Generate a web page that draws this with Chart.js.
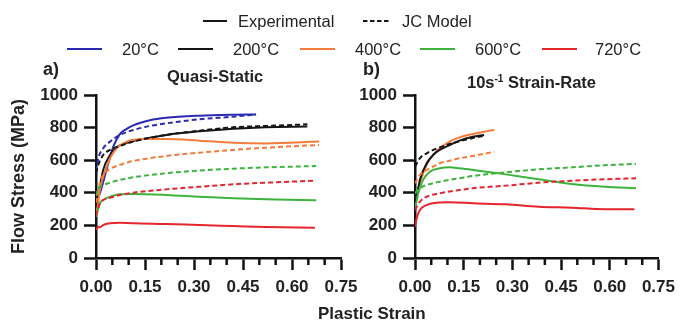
<!DOCTYPE html>
<html>
<head>
<meta charset="utf-8">
<script src="https://cdn.jsdelivr.net/npm/chart.js@4.4.0/dist/chart.umd.min.js"></script>
<style>
  body { margin: 0; background: #fff; }
  #wrap { position: relative; width: 682px; height: 325px; font-family: "Liberation Sans", Arial, sans-serif; color: #222; }
  #wrap canvas { position: absolute; left: 0; top: 0; }
  .t { position: absolute; white-space: nowrap; line-height: 20px; font-size: 16.5px; }
  .b { font-weight: bold; }
  .sw { position: absolute; }
  sup { font-size: 10px; line-height: 0; }
</style>
</head>
<body>
<div id="wrap">
  <canvas id="chartA" width="682" height="325"></canvas>
  <canvas id="chartB" width="682" height="325"></canvas>
  <div class="t b" style="left:43px;top:59px;font-size:18px">a)</div>
  <div class="t b" style="left:363px;top:59px;font-size:18px">b)</div>
  <div class="t b" style="left:167px;top:66px">Quasi-Static</div>
  <div class="t b" style="left:467px;top:72px">10s<sup>-1</sup> Strain-Rate</div>
  <div class="t b" style="left:318px;top:304px;font-size:17px">Plastic Strain</div>
</div>
<script>
// legend entries
const temps = ['20°C', '200°C', '400°C', '600°C', '720°C'];
const colors = ['#2a2ab4', '#151515', '#f47b3a', '#3cb43c', '#e4252c'];

// Quasi-static (a): strain / stress (MPa), experimental and JC model
const qs20ExpX = [0, 0.012, 0.032, 0.053, 0.073, 0.094, 0.114, 0.165, 0.215, 0.317, 0.42, 0.49];
const qs20ExpY = [350, 397, 540, 683, 760, 792, 814, 845, 860, 873, 879, 881];
const qs20JcX = [0, 0.007, 0.022, 0.043, 0.073, 0.114, 0.165, 0.215, 0.317, 0.42, 0.49];
const qs20JcY = [529, 611, 673, 714, 755, 785, 810, 826, 851, 867, 881];

const qs200ExpX = [0, 0.005, 0.022, 0.043, 0.063, 0.094, 0.145, 0.215, 0.317, 0.42, 0.52, 0.647];
const qs200ExpY = [300, 356, 540, 632, 679, 707, 730, 755, 777, 793, 802, 806];
const qs200JcX = [0, 0.005, 0.022, 0.043, 0.073, 0.114, 0.215, 0.317, 0.42, 0.52, 0.647];
const qs200JcY = [520, 560, 632, 663, 687, 714, 755, 781, 802, 810, 820];

const qs400ExpX = [0, 0.005, 0.012, 0.022, 0.043, 0.063, 0.094, 0.145, 0.215, 0.317, 0.42, 0.52, 0.683];
const qs400ExpY = [280, 315, 417, 499, 612, 673, 714, 730, 730, 720, 707, 703, 714];
const qs400JcX = [0, 0.005, 0.012, 0.022, 0.043, 0.073, 0.114, 0.215, 0.317, 0.42, 0.52, 0.683];
const qs400JcY = [340, 376, 458, 509, 546, 571, 595, 626, 646, 663, 677, 693];

const qs600ExpX = [0, 0.012, 0.022, 0.043, 0.073, 0.114, 0.215, 0.317, 0.42, 0.52, 0.674];
const qs600ExpY = [253, 336, 356, 376, 391, 393, 387, 376, 366, 360, 355];
const qs600JcX = [0, 0.005, 0.012, 0.022, 0.043, 0.073, 0.114, 0.215, 0.317, 0.42, 0.52, 0.674];
const qs600JcY = [380, 417, 437, 448, 462, 479, 495, 520, 536, 548, 556, 564];

const qs720ExpX = [0, 0.007, 0.012, 0.022, 0.043, 0.073, 0.114, 0.215, 0.317, 0.42, 0.52, 0.67];
const qs720ExpY = [172, 192, 188, 202, 213, 217, 213, 209, 202, 196, 190, 186];
const qs720JcX = [0, 0.005, 0.012, 0.022, 0.043, 0.073, 0.114, 0.215, 0.317, 0.42, 0.52, 0.67];
const qs720JcY = [260, 294, 336, 356, 370, 387, 401, 421, 437, 452, 462, 474];

// 10 s^-1 (b)
const sr200ExpX = [0, 0.005, 0.015, 0.036, 0.056, 0.076, 0.107, 0.137, 0.178, 0.213];
const sr200ExpY = [340, 376, 479, 581, 632, 663, 693, 720, 744, 755];
const sr200JcX = [0, 0.015, 0.036, 0.056, 0.076, 0.107, 0.137, 0.178, 0.213];
const sr200JcY = [560, 612, 642, 663, 679, 699, 716, 736, 750];

const sr400ExpX = [0, 0.015, 0.036, 0.056, 0.076, 0.107, 0.137, 0.178, 0.213, 0.244];
const sr400ExpY = [330, 458, 571, 632, 673, 714, 740, 761, 775, 785];
const sr400JcX = [0, 0.015, 0.036, 0.056, 0.076, 0.107, 0.137, 0.178, 0.244];
const sr400JcY = [458, 509, 540, 560, 581, 597, 612, 626, 652];

const sr600ExpX = [0, 0.01, 0.025, 0.046, 0.076, 0.107, 0.137, 0.178, 0.23, 0.28, 0.381, 0.483, 0.584, 0.681];
const sr600ExpY = [294, 397, 479, 530, 550, 556, 550, 540, 526, 513, 483, 454, 437, 428];
const sr600JcX = [0, 0.015, 0.036, 0.076, 0.137, 0.178, 0.28, 0.381, 0.483, 0.584, 0.681];
const sr600JcY = [397, 428, 448, 468, 489, 503, 526, 544, 556, 569, 577];

const sr720ExpX = [0, 0.005, 0.015, 0.036, 0.056, 0.107, 0.178, 0.28, 0.381, 0.483, 0.584, 0.676];
const sr720ExpY = [192, 243, 294, 325, 336, 342, 336, 329, 315, 309, 299, 299];
const sr720JcX = [0, 0.015, 0.036, 0.076, 0.137, 0.178, 0.28, 0.381, 0.483, 0.584, 0.681];
const sr720JcY = [294, 345, 376, 397, 417, 428, 444, 462, 474, 483, 489];

const strainTicks = [0, 0.15, 0.30, 0.45, 0.60, 0.75];

// html legend
const wrap = document.getElementById('wrap');
function swatch(left, top, w, color, dashed) {
  const s = document.createElementNS('http://www.w3.org/2000/svg', 'svg');
  s.setAttribute('class', 'sw');
  s.setAttribute('width', w); s.setAttribute('height', 4);
  s.style.left = left + 'px'; s.style.top = (top - 2) + 'px';
  s.innerHTML = '<line x1="0" y1="2" x2="' + w + '" y2="2" stroke="' + color + '" stroke-width="2"' +
    (dashed ? ' stroke-dasharray="4.5 2.5"' : '') + '/>';
  wrap.appendChild(s);
}
function label(left, top, text) {
  const d = document.createElement('div');
  d.className = 't';
  d.style.left = left + 'px'; d.style.top = top + 'px';
  d.textContent = text;
  wrap.appendChild(d);
}
swatch(203, 21, 24, '#151515', false); label(238, 11, 'Experimental');
swatch(363, 21, 27, '#151515', true); label(402, 11, 'JC Model');
const swX = [67, 178, 300, 420, 542];
const txtX = [122, 233, 355, 475, 595];
temps.forEach((t, i) => { swatch(swX[i], 49, 35, colors[i], false); label(txtX[i], 39, t); });

function series(xs, ys, color, dashed) {
  return {
    data: xs.map((x, i) => ({ x: x, y: ys[i] })),
    borderColor: color,
    borderWidth: 2,
    borderDash: dashed ? [5, 3] : [],
    pointRadius: 0,
    cubicInterpolationMode: 'monotone',
    fill: false
  };
}

const tickFont = { family: 'Liberation Sans, Arial, sans-serif', size: 17, weight: 'bold' };
const axisGrid = { drawOnChartArea: false, drawTicks: true, tickLength: 12, tickWidth: 2.5, tickColor: '#111', color: '#111' };
const axisBorder = { display: true, color: '#111', width: 2.5 };

const minorTicks = {
  id: 'minorTicks',
  afterDraw(chart) {
    const sx = chart.scales.x, ctx = chart.ctx, y0 = chart.chartArea.bottom;
    ctx.save();
    ctx.strokeStyle = '#111';
    ctx.lineWidth = 2.5;
    for (let i = 1; i < 15; i++) {
      if (i % 3 === 0) continue;
      const px = sx.getPixelForValue(i * 0.05);
      ctx.beginPath(); ctx.moveTo(px, y0); ctx.lineTo(px, y0 + 7); ctx.stroke();
    }
    ctx.restore();
  }
};

function makeOptions(padLeft, yWidth, padRight, showTitle) {
  return {
    responsive: false,
    animation: false,
    layout: { padding: { left: padLeft, right: padRight, top: 95, bottom: 0 } },
    plugins: { legend: { display: false }, tooltip: { enabled: false } },
    scales: {
      x: {
        type: 'linear', min: 0, max: 0.75,
        afterBuildTicks: s => { s.ticks = strainTicks.map(v => ({ value: v })); },
        ticks: { font: tickFont, color: '#222', padding: 7, maxRotation: 0, autoSkip: false,
                 callback: v => v.toFixed(2) },
        grid: axisGrid, border: axisBorder,
        afterFit: s => { s.height = 67; }
      },
      y: {
        min: 0, max: 1000,
        ticks: { stepSize: 200, font: tickFont, color: '#222', padding: 6, callback: v => String(v) },
        grid: axisGrid, border: axisBorder,
        title: { display: showTitle, text: 'Flow Stress (MPa)', color: '#222',
                 font: { family: 'Liberation Sans, Arial, sans-serif', size: 18, weight: 'bold' },
                 padding: { top: 8, bottom: 0 } },
        afterFit: s => { s.width = yWidth; }
      }
    }
  };
}

const dataA = {
  datasets: [
    series(qs720JcX, qs720JcY, colors[4], true),
    series(qs600JcX, qs600JcY, colors[3], true),
    series(qs400JcX, qs400JcY, colors[2], true),
    series(qs200JcX, qs200JcY, colors[1], true),
    series(qs20JcX, qs20JcY, colors[0], true),
    series(qs720ExpX, qs720ExpY, colors[4], false),
    series(qs600ExpX, qs600ExpY, colors[3], false),
    series(qs400ExpX, qs400ExpY, colors[2], false),
    series(qs200ExpX, qs200ExpY, colors[1], false),
    series(qs20ExpX, qs20ExpY, colors[0], false)
  ]
};

const dataB = {
  datasets: [
    series(sr720JcX, sr720JcY, colors[4], true),
    series(sr600JcX, sr600JcY, colors[3], true),
    series(sr400JcX, sr400JcY, colors[2], true),
    series(sr200JcX, sr200JcY, colors[1], true),
    series(sr720ExpX, sr720ExpY, colors[4], false),
    series(sr600ExpX, sr600ExpY, colors[3], false),
    series(sr200ExpX, sr200ExpY, colors[1], false),
    series(sr400ExpX, sr400ExpY, colors[2], false)
  ]
};

new Chart(document.getElementById('chartA'), {
  type: 'line', data: dataA, options: makeOptions(0, 96, 341, true), plugins: [minorTicks]
});
new Chart(document.getElementById('chartB'), {
  type: 'line', data: dataB, options: makeOptions(355, 60, 21, false), plugins: [minorTicks]
});
</script>
</body>
</html>
